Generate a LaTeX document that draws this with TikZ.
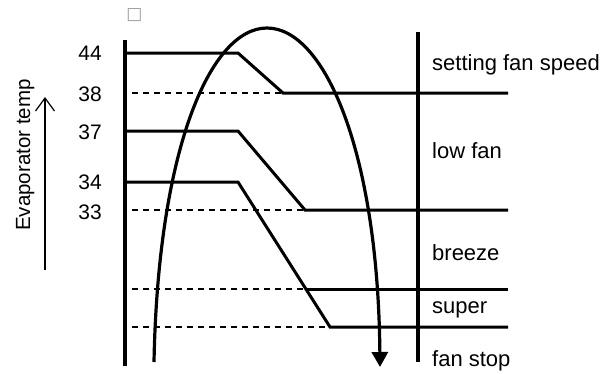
\documentclass[tikz,border=0pt]{standalone}
\usepackage{fontspec}
\setmainfont{Liberation Sans}
\newfontfamily\simbolos{DejaVu Sans}
\usetikzlibrary{arrows.meta, positioning, calc}
\definecolor{tinta}{HTML}{000000}
\definecolor{gristofu}{HTML}{9A9A9A}
\tikzset{
  eje/.style={line width=3.4pt, color=tinta},
  nivel/.style={line width=3pt, color=tinta, line join=miter},
  umbral/.style={line width=1.4pt, dash pattern=on 6pt off 5pt, color=tinta},
  curva/.style={line width=3.2pt, color=tinta, -{Triangle[length=15pt, width=16pt]}},
  temp/.style={font=\fontsize{21}{25}\selectfont, anchor=east, inner sep=0pt},
  modo/.style={font=\fontsize{22}{26}\selectfont, anchor=base west, inner sep=0pt},
  rotulo/.style={font=\fontsize{20.5}{24}\selectfont, rotate=90, anchor=base, inner sep=0pt}
}
\begin{document}
\begin{tikzpicture}[x=1pt, y=-1pt]
  \useasboundingbox (0,0) rectangle (605,373);
  % ejes
  \coordinate (izqA) at (125,40);
  \coordinate (izqB) at (125,366);
  \coordinate (derA) at (418,32);
  \coordinate (derB) at (418,362);
  \draw [eje, line width=3.8pt] (izqA) -- (izqB);
  \draw [eje] (derA) -- (derB);
  % quiebres de cada nivel
  \coordinate (q44) at (238,53);
  \coordinate (q38) at (283,93);
  \coordinate (q37) at (238,131);
  \coordinate (q33) at (305,210);
  \coordinate (q34) at (238,182);
  \coordinate (qbr) at (305,289);
  \coordinate (qsu) at (330,327);
  \draw [nivel] (125,53) -- (q44) -- (q38) -- (508,93);
  \draw [nivel] (125,131) -- (q37) -- (q33) -- (508,210);
  \draw [nivel] (125,182) -- (q34) -- (qsu) -- (508,327);
  \draw [nivel] (qbr) -- (508,289);
  \draw [umbral] (132,93) -- (q38);
  \draw [umbral] (132,210) -- (q33);
  \draw [umbral] (132,289) -- (qbr);
  \draw [umbral] (132,327) -- (qsu);
  % recorrido de la temperatura
  \draw [curva] (154,362) .. controls (158,150) and (210,28) .. (267,28)
                .. controls (324,28) and (378,150) .. (380,367);
  % valores
  \node (t44) [temp] at (102,53) {44};
  \node (t38) [temp] at (102,94) {38};
  \node (t37) [temp] at (102,132) {37};
  \node (t34) [temp] at (102,182) {34};
  \node (t33) [temp] at (102,212) {33};
  % modos
  \node (m1) [modo] at (432,70) {setting fan speed};
  \node (m2) [modo] at (432,158) {low fan};
  \node (m3) [modo] at (432,260) {breeze};
  \node (m4) [modo] at (432,313) {super};
  \node (m5) [modo] at (432,366) {fan stop};
  % eje de temperatura
  \node (rot) [rotulo] at (30,155) {Evaporator temp};
  \coordinate (flA) at (45,270);
  \coordinate (flB) at (45,97);
  \draw [line width=1.2pt, -{Straight Barb[length=13pt, width=19pt]}] (flA) -- (flB);
  \node (caja) [font=\simbolos\fontsize{17}{20}\selectfont, text=gristofu, inner sep=0pt] at (134.5,15.5) {□};
\end{tikzpicture}
\end{document}
